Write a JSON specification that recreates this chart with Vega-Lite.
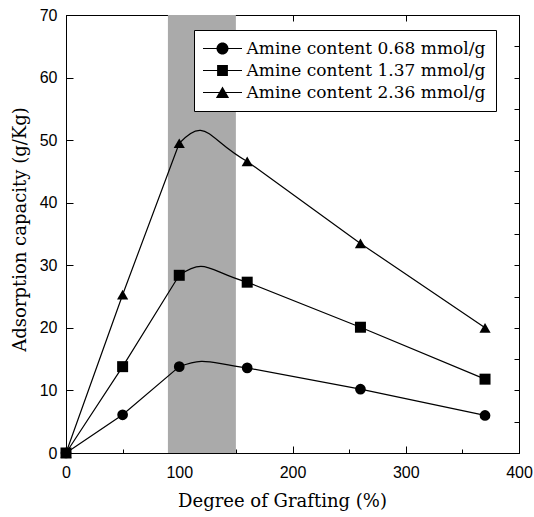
{
  "$schema": "https://vega.github.io/schema/vega-lite/v6.json",
  "width": 453,
  "height": 438,
  "autosize": {"type": "none"},
  "padding": {"left": 66, "top": 15, "right": 15, "bottom": 64},
  "background": "white",
  "config": {
    "view": {"stroke": "black", "strokeWidth": 1},
    "axis": {"domainColor": "black", "tickColor": "black", "labelColor": "black", "titleColor": "black", "grid": false, "tickWidth": 1, "domainWidth": 1}
  },
  "datasets": {
    "points": [
      {"series": "Amine content 0.68 mmol/g", "x": 0, "y": 0},
      {"series": "Amine content 0.68 mmol/g", "x": 50, "y": 6.1},
      {"series": "Amine content 0.68 mmol/g", "x": 100, "y": 13.8},
      {"series": "Amine content 0.68 mmol/g", "x": 160, "y": 13.6},
      {"series": "Amine content 0.68 mmol/g", "x": 260, "y": 10.2},
      {"series": "Amine content 0.68 mmol/g", "x": 370, "y": 6.0},
      {"series": "Amine content 2.36 mmol/g", "x": 0, "y": 0},
      {"series": "Amine content 2.36 mmol/g", "x": 50, "y": 25.3},
      {"series": "Amine content 2.36 mmol/g", "x": 100, "y": 49.5},
      {"series": "Amine content 2.36 mmol/g", "x": 160, "y": 46.6},
      {"series": "Amine content 2.36 mmol/g", "x": 260, "y": 33.5},
      {"series": "Amine content 2.36 mmol/g", "x": 370, "y": 20.0},
      {"series": "Amine content 1.37 mmol/g", "x": 0, "y": 0},
      {"series": "Amine content 1.37 mmol/g", "x": 50, "y": 13.8},
      {"series": "Amine content 1.37 mmol/g", "x": 100, "y": 28.4},
      {"series": "Amine content 1.37 mmol/g", "x": 160, "y": 27.3},
      {"series": "Amine content 1.37 mmol/g", "x": 260, "y": 20.1},
      {"series": "Amine content 1.37 mmol/g", "x": 370, "y": 11.8}
    ],
    "band": [{"start": 90, "end": 150}]
  },
  "layer": [
    {
      "layer": [
        {
          "data": {"name": "band"},
          "mark": {"type": "rect", "color": "#aaaaaa"},
          "encoding": {
            "x": {
              "field": "start", "type": "quantitative",
              "scale": {"domain": [0, 400], "nice": false, "zero": false},
              "axis": {
                "orient": "bottom",
                "values": [0, 50, 100, 150, 200, 250, 300, 350, 400],
                "tickSize": {"condition": {"test": "datum.value % 100 === 0", "value": -7}, "value": -4},
                "labelExpr": "datum.value % 100 === 0 ? datum.label : ''",
                "labelFont": "Liberation Sans", "labelFontSize": 16,
                "labelPadding": 18, "labelFlush": false,
                "title": "Degree of Grafting (%)",
                "titleFont": "DejaVu Serif", "titleFontSize": 18, "titleFontWeight": "normal",
                "titlePadding": 12, "titleX": 216
              }
            },
            "x2": {"field": "end"}
          }
        },
        {
          "data": {"name": "points"},
          "transform": [{"filter": "datum.x <= 100"}],
          "mark": {"type": "line", "interpolate": "linear", "color": "black", "strokeWidth": 1.2},
          "encoding": {
            "x": {"field": "x", "type": "quantitative"},
            "y": {
              "field": "y", "type": "quantitative",
              "scale": {"domain": [0, 70], "nice": false, "zero": false},
              "axis": {
                "orient": "left",
                "values": [0, 5, 10, 15, 20, 25, 30, 35, 40, 45, 50, 55, 60, 65, 70],
                "tickSize": {"condition": {"test": "datum.value % 10 === 0", "value": -7}, "value": -4},
                "labelExpr": "datum.value % 10 === 0 ? datum.label : ''",
                "labelFont": "Liberation Sans", "labelFontSize": 16,
                "labelPadding": 16, "labelFlush": false,
                "title": "Adsorption capacity (g/Kg)",
                "titleFont": "DejaVu Serif", "titleFontSize": 18, "titleFontWeight": "normal",
                "titlePadding": 10, "titleY": 214
              }
            },
            "detail": {"field": "series", "type": "nominal"}
          }
        },
        {
          "data": {"name": "points"},
          "transform": [{"filter": "datum.x >= 50 && datum.x <= 260"}],
          "mark": {"type": "line", "interpolate": "cardinal-open", "tension": -0.3, "color": "black", "strokeWidth": 1.2},
          "encoding": {
            "x": {"field": "x", "type": "quantitative"},
            "y": {"field": "y", "type": "quantitative"},
            "detail": {"field": "series", "type": "nominal"}
          }
        },
        {
          "data": {"name": "points"},
          "transform": [{"filter": "datum.x >= 160"}],
          "mark": {"type": "line", "interpolate": "linear", "color": "black", "strokeWidth": 1.2},
          "encoding": {
            "x": {"field": "x", "type": "quantitative"},
            "y": {"field": "y", "type": "quantitative"},
            "detail": {"field": "series", "type": "nominal"}
          }
        },
        {
          "data": {"name": "points"},
          "transform": [{"filter": "datum.series === 'Amine content 0.68 mmol/g'"}],
          "mark": {"type": "point", "shape": "circle", "filled": true, "color": "black", "opacity": 1, "size": 115},
          "encoding": {
            "x": {"field": "x", "type": "quantitative"},
            "y": {"field": "y", "type": "quantitative"}
          }
        },
        {
          "data": {"name": "points"},
          "transform": [{"filter": "datum.series === 'Amine content 2.36 mmol/g'"}],
          "mark": {"type": "point", "shape": "triangle-up", "filled": true, "color": "black", "opacity": 1, "size": 125},
          "encoding": {
            "x": {"field": "x", "type": "quantitative"},
            "y": {"field": "y", "type": "quantitative"}
          }
        },
        {
          "data": {"name": "points"},
          "transform": [{"filter": "datum.series === 'Amine content 1.37 mmol/g'"}],
          "mark": {"type": "point", "shape": "square", "filled": true, "color": "black", "opacity": 1, "size": 121},
          "encoding": {
            "x": {"field": "x", "type": "quantitative"},
            "y": {"field": "y", "type": "quantitative"}
          }
        },
        {
          "data": {"name": "points"},
          "mark": {"type": "point", "filled": true, "color": "black", "opacity": 1, "size": 0},
          "encoding": {
            "x": {"field": "x", "type": "quantitative"},
            "y": {"field": "y", "type": "quantitative"},
            "shape": {
              "field": "series", "type": "nominal",
              "scale": {
                "domain": ["Amine content 0.68 mmol/g", "Amine content 1.37 mmol/g", "Amine content 2.36 mmol/g"],
                "range": [
                  "M-3.25,-0.1L3.25,-0.1L3.25,0.1L-3.25,0.1ZM1,0A1,1,0,1,1,-1,0A1,1,0,1,1,1,0Z",
                  "M-3.25,-0.1L3.25,-0.1L3.25,0.1L-3.25,0.1ZM-0.9,-0.9L0.9,-0.9L0.9,0.9L-0.9,0.9Z",
                  "M-3.25,-0.1L3.25,-0.1L3.25,0.1L-3.25,0.1ZM0,-1L1.1,0.9L-1.1,0.9Z"
                ]
              },
              "legend": {
                "orient": "none", "legendX": 128, "legendY": 15,
                "title": null, "padding": 10,
                "strokeColor": "black", "fillColor": "white",
                "symbolSize": 144, "symbolOpacity": 1,
                "symbolFillColor": "black", "symbolStrokeColor": "black", "symbolStrokeWidth": 0,
                "symbolOffset": 10, "labelOffset": 15.5,
                "labelFont": "DejaVu Serif", "labelFontSize": 17, "labelColor": "black", "labelLimit": 400,
                "rowPadding": 4
              }
            }
          }
        }
      ]
    },
    {
      "data": {"name": "points"},
      "mark": {"type": "point", "opacity": 0},
      "encoding": {
        "x": {
          "field": "x", "type": "quantitative",
          "axis": {"orient": "top", "values": [100, 200, 300], "tickSize": -6, "labels": false, "title": null}
        },
        "y": {
          "field": "y", "type": "quantitative",
          "axis": {"orient": "right", "values": [5, 10, 15, 20, 25, 30, 35, 40, 45, 50, 55, 60, 65], "tickSize": -5, "labels": false, "title": null}
        }
      }
    }
  ],
  "resolve": {"axis": {"x": "independent", "y": "independent"}}
}
